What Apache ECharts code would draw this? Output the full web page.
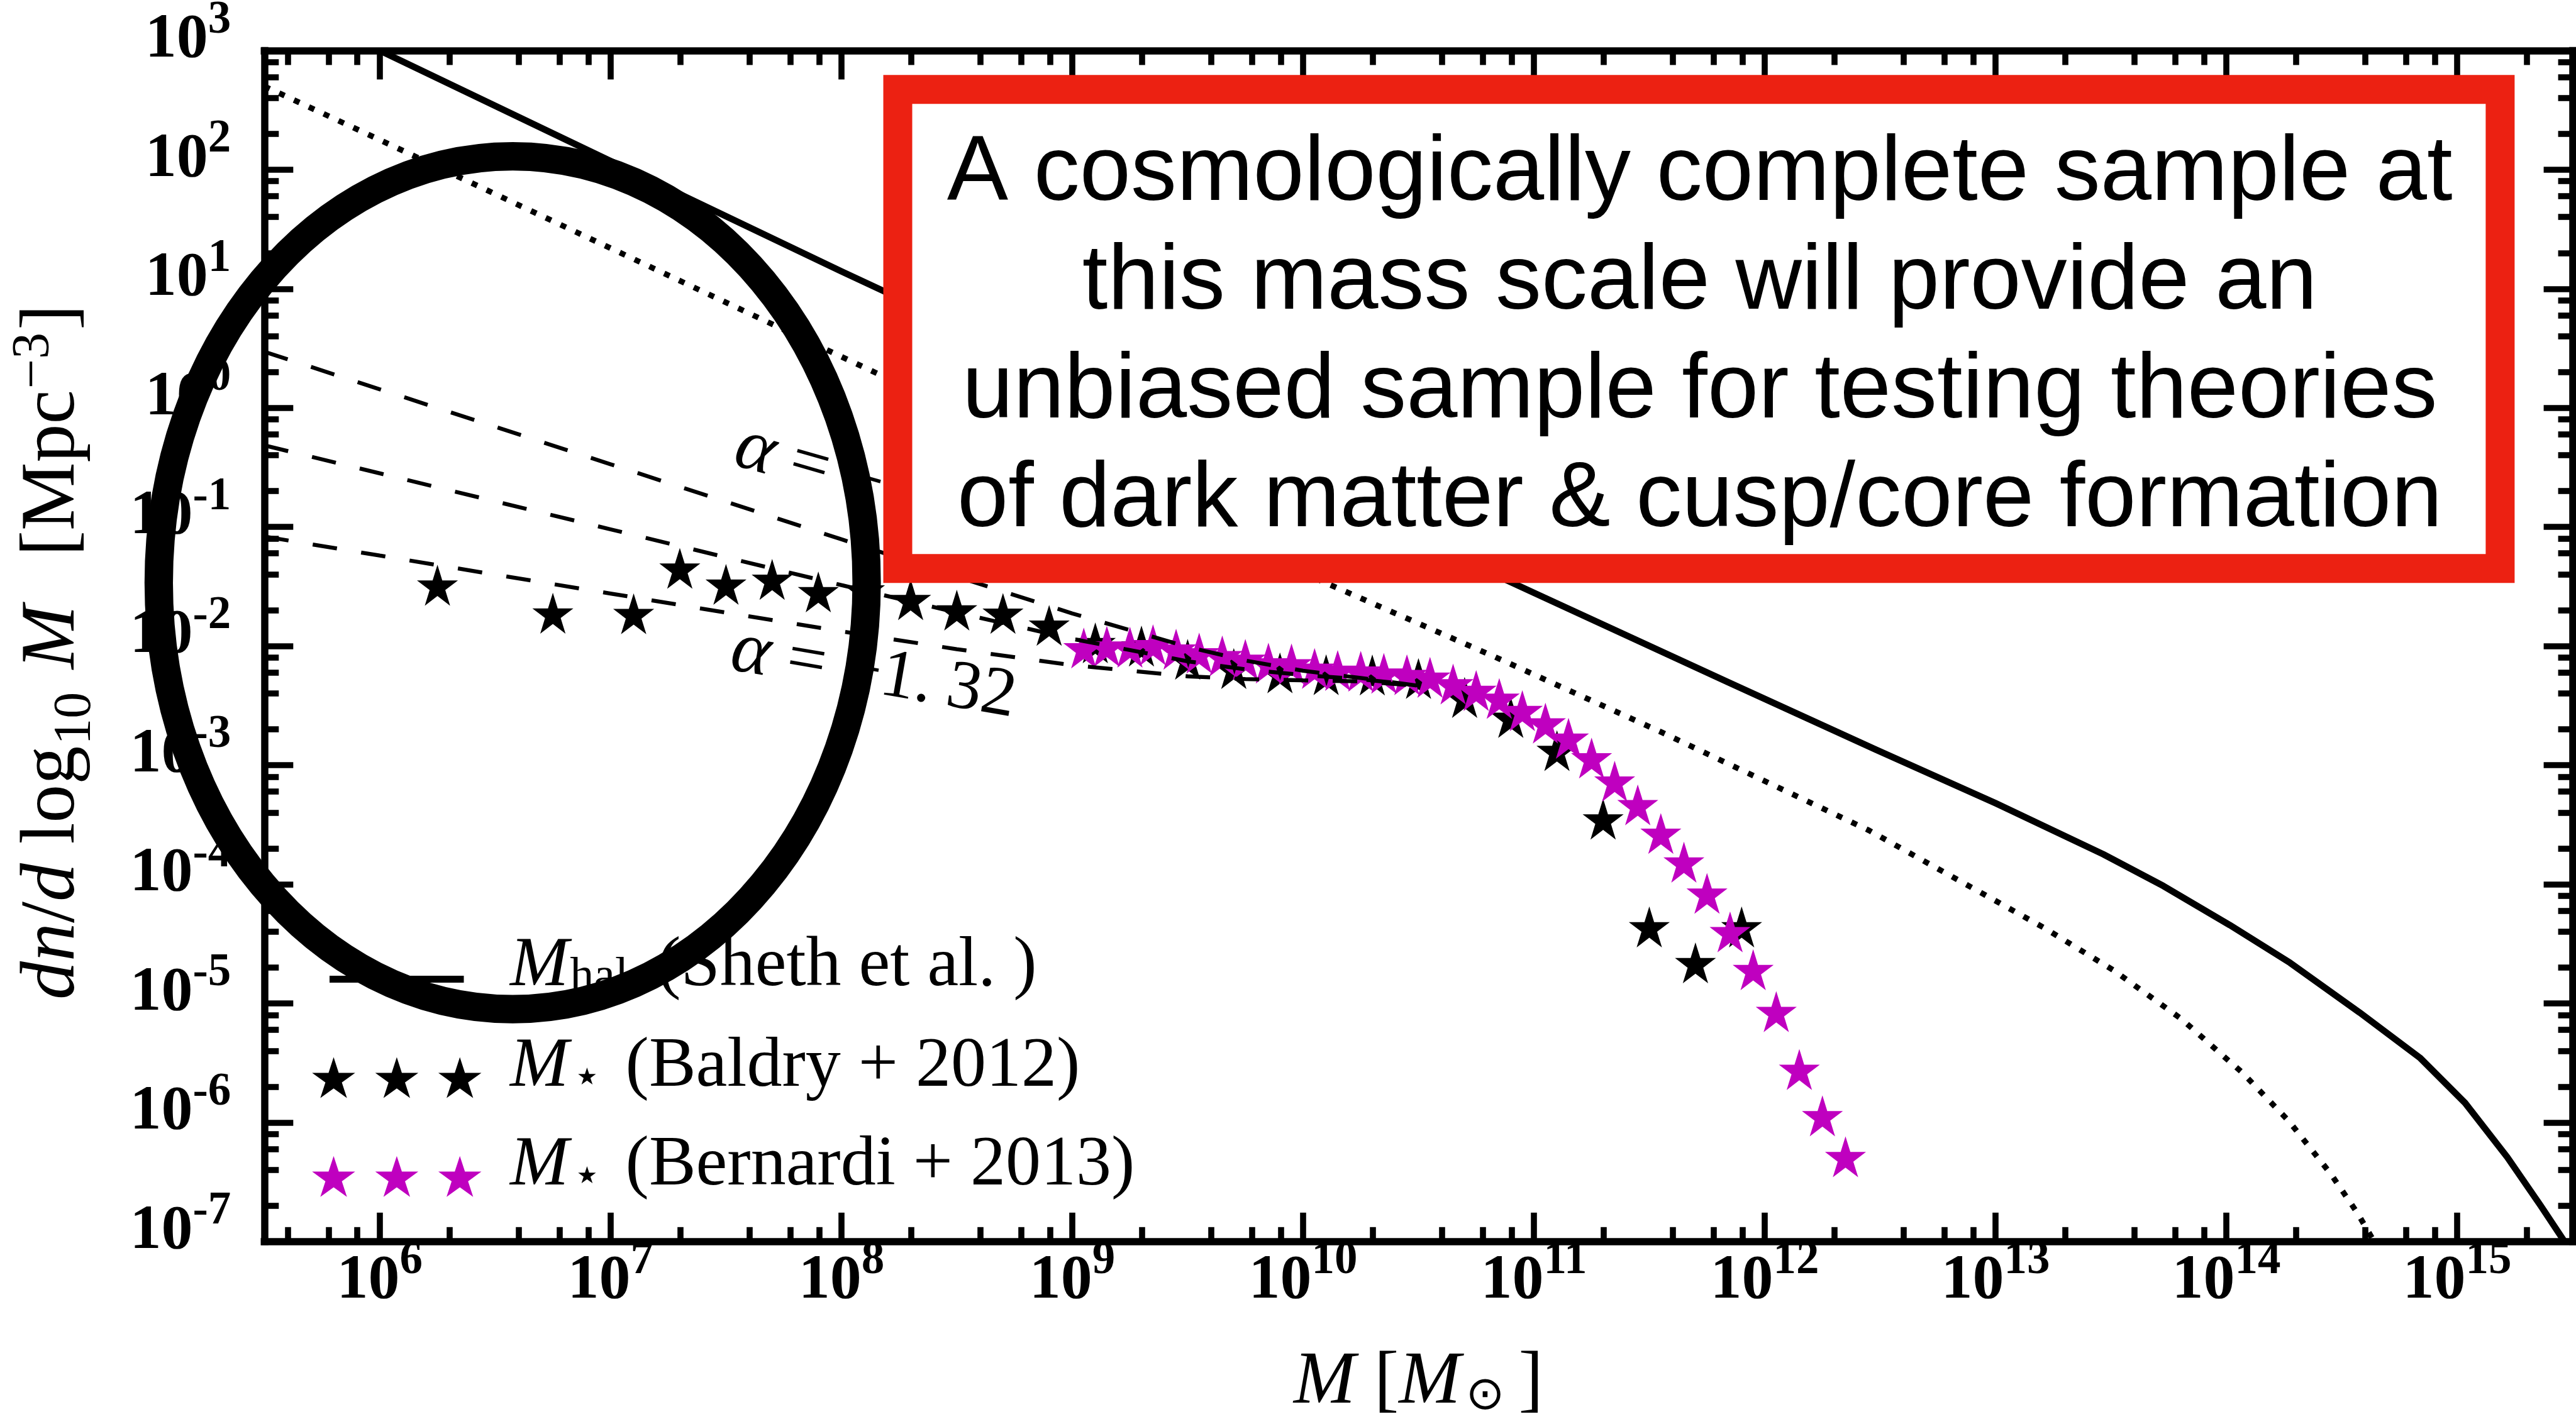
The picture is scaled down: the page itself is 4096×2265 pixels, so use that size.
<!DOCTYPE html>
<html>
<head>
<meta charset="utf-8">
<script src="https://cdn.jsdelivr.net/npm/echarts@6/dist/echarts.min.js"></script>
<style>
  html, body { margin: 0; padding: 0; background: #ffffff; }
  #chart { width: 4096px; height: 2265px; }
</style>
</head>
<body>
<div id="chart"></div>
<script>
// ---------------- data (log10 of mass in solar masses, number density per dex per Mpc^3) ----------------

// Halo mass function (Sheth et al.)
const haloLogM = [6.0, 7.0, 8.0, 9.0, 10.0, 11.0, 11.838, 12.481, 13.0, 13.466, 13.727, 14.015, 14.276, 14.577, 14.838, 15.034, 15.217, 15.361, 15.465];
const haloPhi  = [1000, 118, 14.0, 1.75, 0.220, 0.0280, 0.00501, 0.00135, 0.000479, 0.000179, 0.0000968, 0.0000454, 0.0000219, 0.00000838, 0.00000350, 0.00000146, 5.11e-7, 2.01e-7, 1.0e-7];

// Halo mass function scaled by the baryon fraction (dotted)
const baryonLogM = [5.5, 6.0, 7.0, 8.0, 9.0, 10.0, 10.831, 11.553, 12.452, 13.211, 13.512, 13.803, 14.070, 14.270, 14.452, 14.570, 14.64];
const baryonPhi  = [501, 178, 21.9, 2.69, 0.331, 0.0411, 0.00811, 0.00189, 0.000283, 0.0000430, 0.0000189, 0.00000745, 0.00000261, 0.00000103, 3.71e-7, 1.71e-7, 1.0e-7];

// Schechter fits with different faint-end slopes (dashed)
const fitLogM     = [5.5, 6.0, 6.5, 7.0, 7.5, 8.0, 8.5, 9.0, 9.5, 9.75, 10.0, 10.25, 10.5];
const fitSteep    = [2.958, 1.432, 0.694, 0.336, 0.163, 0.0787, 0.0382, 0.0188, 0.00984, 0.00756, 0.00620, 0.00539, 0.00464];
const fitMid      = [0.484, 0.282, 0.164, 0.0955, 0.0556, 0.0325, 0.0191, 0.0115, 0.00745, 0.00637, 0.00571, 0.00527, 0.00468];
const fitShallow  = [0.0831, 0.0575, 0.0398, 0.0276, 0.0191, 0.0133, 0.00941, 0.00691, 0.00557, 0.00528, 0.00515, 0.00505, 0.00464];

// Stellar mass function, Baldry et al. 2012
const baldryLogM = [6.25, 6.75, 7.10, 7.30, 7.50, 7.70, 7.90, 8.10, 8.30, 8.50, 8.70, 8.90, 9.10, 9.30, 9.50,
                    9.70, 9.90, 10.10, 10.30, 10.50, 10.70, 10.90, 11.10, 11.30, 11.50, 11.70, 11.90];
const baldryPhi  = [0.0311, 0.0181, 0.0179, 0.0431, 0.0316, 0.0348, 0.0273, 0.0283, 0.0235, 0.0192, 0.0180, 0.0143, 0.0102, 0.00959, 0.00742,
                    0.00621, 0.00571, 0.00551, 0.00548, 0.00512, 0.00355, 0.00241, 0.00127, 0.000338, 0.000042, 0.000021, 0.000042];

// Stellar mass function, Bernardi et al. 2013
const bernardiLogM = [9.05, 9.15, 9.25, 9.35, 9.45, 9.55, 9.65, 9.75, 9.85, 9.95, 10.05, 10.15, 10.25, 10.35, 10.45, 10.55, 10.65,
                      10.75, 10.85, 10.95, 11.05, 11.15, 11.25, 11.35, 11.45, 11.55, 11.65, 11.75, 11.85, 11.95, 12.05, 12.15, 12.25, 12.35];
const bernardiPhi  = [0.00923, 0.00955, 0.00938, 0.00982, 0.00902, 0.00838, 0.00793, 0.00741, 0.00689, 0.00678, 0.00622, 0.00598, 0.00589, 0.00566, 0.00551, 0.00524, 0.00460,
                      0.00406, 0.00348, 0.00275, 0.00216, 0.00161, 0.00110, 0.000703, 0.000445, 0.000256, 0.000147, 0.0000804, 0.0000382, 0.0000184, 0.00000817, 0.00000267, 0.00000109, 0.000000494];

// Axis decades that carry a labelled tick, and minor-tick multipliers
const xTickExp = [6, 7, 8, 9, 10, 11, 12, 13, 14, 15];
const yTickExp = [-7, -6, -5, -4, -3, -2, -1, 0, 1, 2, 3];
const minorMult = [2, 4, 6, 8];

// Annotation texts
const boxLines = [
  'A cosmologically complete sample at',
  'this mass scale will provide an',
  'unbiased sample for testing theories',
  'of dark matter & cusp/core formation'
];

// ---------------- helpers ----------------
const SERIF = 'Liberation Serif';
const pow10 = v => Math.pow(10, v);
const toPairs = (xs, ys) => xs.map((x, i) => [pow10(x), ys[i]]);

const X_MIN = pow10(5.5), X_MAX = pow10(15.5);
const Y_MIN = 1e-7, Y_MAX = 1e3;

const xMajor = xTickExp.map(pow10);
const yMajor = yTickExp.map(pow10);
const xMinor = [], yMinor = [];
for (let e = 5; e <= 15; e++) minorMult.forEach(m => { const v = m * pow10(e); if (v > X_MIN && v < X_MAX) xMinor.push(v); });
for (let e = -7; e <= 2; e++) minorMult.forEach(m => { const v = m * pow10(e); if (v > Y_MIN && v < Y_MAX) yMinor.push(v); });

// five-pointed star outline, outer radius R, centred on (cx, cy)
function starPath(cx, cy, R) {
  const pts = [];
  for (let k = 0; k < 10; k++) {
    const r = k % 2 === 0 ? R : R * 0.381966;
    const a = -Math.PI / 2 + k * Math.PI / 5;
    pts.push((cx + r * Math.cos(a)).toFixed(2) + ' ' + (cy + r * Math.sin(a)).toFixed(2));
  }
  return 'M' + pts.join(' L') + ' Z ';
}
// the extra move-to keeps the star centre in the middle of the symbol box
const STAR_SYMBOL = 'path://M100 200 ' + starPath(100, 100, 100);
// legend handles: three stars, or a short solid line, in a 310 x 72 box
const LEGEND_STARS = 'path://M0 0 M310 72 ' + starPath(34.5, 36, 36) + starPath(134.9, 36, 36) + starPath(235.2, 36, 36);
const LEGEND_LINE = 'path://M0 0 M310 72 M28 30.5 L241.5 30.5 L241.5 41.5 L28 41.5 Z';

const tickRich = {
  b: { fontFamily: SERIF, fontWeight: 'bold', fontSize: 100, lineHeight: 100, verticalAlign: 'bottom', color: '#000' },
  s: { fontFamily: SERIF, fontWeight: 'bold', fontSize: 73, lineHeight: 73, verticalAlign: 'bottom', padding: [0, 0, 45, 0], color: '#000' }
};
const powerLabel = v => '{b|10}{s|' + Math.round(Math.log10(v)) + '}';

const AXIS_LINE = { show: true, onZero: false, lineStyle: { color: '#000', width: 11.5, cap: 'square' } };
const TICK_STYLE = { color: '#000', width: 9.6 };

function logAxis(min, max, position, ticks, tickLen, withLine, label) {
  return {
    type: 'log', logBase: 10, min, max, position, gridIndex: 0,
    axisLine: withLine ? AXIS_LINE : { show: false },
    axisTick: { show: true, inside: true, length: tickLen, lineStyle: TICK_STYLE, customValues: ticks },
    minorTick: { show: false },
    splitLine: { show: false },
    axisLabel: label || { show: false }
  };
}

const xLabel = { show: true, customValues: xMajor, margin: 13, formatter: powerLabel, rich: tickRich };
const yLabel = { show: true, customValues: yMajor, margin: 53, padding: [0, 0, 32, 0], formatter: powerLabel, rich: tickRich };

const xBottom = logAxis(X_MIN, X_MAX, 'bottom', xMajor, 46, true, xLabel);
xBottom.name = '{i|M}{r| [}{i|M}{sun|\u2299}{r|]}';
xBottom.nameLocation = 'middle';
xBottom.nameGap = 166;
xBottom.nameTextStyle = {
  fontFamily: SERIF, fontSize: 118, lineHeight: 118, color: '#000', verticalAlign: 'top', align: 'center',
  rich: {
    i: { fontFamily: SERIF, fontStyle: 'italic', fontSize: 118, lineHeight: 118, verticalAlign: 'bottom', color: '#000' },
    r: { fontFamily: SERIF, fontSize: 118, lineHeight: 118, verticalAlign: 'bottom', color: '#000' },
    sun: { fontFamily: 'DejaVu Sans', fontSize: 74, lineHeight: 38, verticalAlign: 'bottom', padding: [0, 22, 0, 8], color: '#000' }
  }
};

const yLeft = logAxis(Y_MIN, Y_MAX, 'left', yMajor, 46, true, yLabel);
yLeft.name = '{i|dn}{r|/}{i|d}{r| log}{sub|10}{i| M}{rb|[Mpc}{sup|\u22123}{r|]}';
yLeft.nameLocation = 'middle';
yLeft.nameRotate = 90;
yLeft.nameGap = 257.6;
yLeft.nameTextStyle = {
  fontFamily: SERIF, fontSize: 122, lineHeight: 122, color: '#000', verticalAlign: 'bottom', align: 'center', padding: [0, 19, 0, 0],
  rich: {
    i: { fontFamily: SERIF, fontStyle: 'italic', fontSize: 122, lineHeight: 122, padding: [0, 0, 17, 0], verticalAlign: 'bottom', color: '#000' },
    r: { fontFamily: SERIF, fontSize: 122, lineHeight: 122, padding: [0, 0, 17, 0], verticalAlign: 'bottom', color: '#000' },
    rb: { fontFamily: SERIF, fontSize: 122, lineHeight: 122, padding: [0, 0, 17, 78], verticalAlign: 'bottom', color: '#000' },
    sub: { fontFamily: SERIF, fontSize: 84, lineHeight: 84, verticalAlign: 'bottom', padding: [0, 6, 0, 2], color: '#000' },
    sup: { fontFamily: SERIF, fontSize: 84, lineHeight: 84, padding: [0, 4, 66, 2], verticalAlign: 'bottom', color: '#000' }
  }
};

const legendRich = {
  i: { fontFamily: SERIF, fontStyle: 'italic', fontSize: 112, lineHeight: 72, verticalAlign: 'bottom', color: '#000' },
  r: { fontFamily: SERIF, fontSize: 112, lineHeight: 72, verticalAlign: 'bottom', color: '#000' },
  sub: { fontFamily: SERIF, fontSize: 76, lineHeight: 19, verticalAlign: 'bottom', padding: [0, 8, 0, 2], color: '#000' },
  star: { fontFamily: 'DejaVu Sans', fontSize: 74, lineHeight: 19, verticalAlign: 'bottom', padding: [0, 10, 0, 6], color: '#000' }
};
const legendText = {
  halo: '{i|M}{sub|halo}{r|(Sheth et al. )}',
  baldry: '{i|M}{star|\u22c6}{r| (Baldry + 2012)}',
  bernardi: '{i|M}{star|\u22c6}{r| (Bernardi + 2013)}'
};
function legendRow(name, icon, top) {
  return {
    data: [{ name, icon }],
    left: 496, top, orient: 'vertical', padding: 0,
    itemWidth: 310, itemHeight: 72, itemGap: 0,
    selectedMode: false,
    itemStyle: { borderWidth: 0, opacity: 1 },
    textStyle: { fontFamily: SERIF, fontSize: 112, lineHeight: 72, color: '#000', rich: legendRich },
    formatter: n => legendText[n]
  };
}

const labelRich = {
  a: { fontFamily: SERIF, fontStyle: 'italic', fontSize: 118, color: '#000' },
  r: { fontFamily: SERIF, fontSize: 110, color: '#000' },
  d: { fontFamily: SERIF, fontSize: 110, padding: [0, 0, 0, 24], color: '#000' }
};

const lineCommon = { type: 'line', z: 3, xAxisIndex: 0, yAxisIndex: 0, symbol: 'none', showSymbol: false, smooth: false, itemStyle: { color: '#000' } };
const starCommon = { type: 'scatter', z: 1, xAxisIndex: 0, yAxisIndex: 0, symbol: STAR_SYMBOL, symbolSize: [68.5, 72], symbolKeepAspect: true };

// ---------------- chart ----------------
const chart = echarts.init(document.getElementById('chart'), null, { width: 4096, height: 2265, renderer: 'canvas' });

chart.setOption({
  animation: false,
  backgroundColor: '#ffffff',
  grid: { left: 420.3, top: 80.4, width: 3670.3, height: 1894.4, containLabel: false, outerBoundsMode: 'none' },
  xAxis: [
    xBottom,
    logAxis(X_MIN, X_MAX, 'top', xMajor, 46, true),
    logAxis(X_MIN, X_MAX, 'bottom', xMinor, 23, false),
    logAxis(X_MIN, X_MAX, 'top', xMinor, 23, false)
  ],
  yAxis: [
    yLeft,
    logAxis(Y_MIN, Y_MAX, 'right', yMajor, 46, true),
    logAxis(Y_MIN, Y_MAX, 'left', yMinor, 23, false),
    logAxis(Y_MIN, Y_MAX, 'right', yMinor, 23, false)
  ],
  legend: [
    legendRow('halo', LEGEND_LINE, 1481.5),
    legendRow('baldry', LEGEND_STARS, 1641.5),
    legendRow('bernardi', LEGEND_STARS, 1798.7)
  ],
  series: [
    Object.assign({}, starCommon, { name: 'baldry', data: toPairs(baldryLogM, baldryPhi), itemStyle: { color: '#000000', opacity: 1 } }),
    Object.assign({}, starCommon, { name: 'bernardi', data: toPairs(bernardiLogM, bernardiPhi), itemStyle: { color: '#bf00bf', opacity: 1 } }),
    Object.assign({}, lineCommon, { name: 'halo', data: toPairs(haloLogM, haloPhi),
      lineStyle: { color: '#000', width: 10.4, type: 'solid', join: 'round' } }),
    Object.assign({}, lineCommon, { name: 'baryons', data: toPairs(baryonLogM, baryonPhi),
      lineStyle: { color: '#000', width: 9, type: [9.5, 16.5], cap: 'butt' } }),
    Object.assign({}, lineCommon, { name: 'fit steep', data: toPairs(fitLogM, fitSteep),
      lineStyle: { color: '#000', width: 6.3, type: [39, 39] } }),
    Object.assign({}, lineCommon, { name: 'fit mid', data: toPairs(fitLogM, fitMid),
      lineStyle: { color: '#000', width: 6.3, type: [39, 39] } }),
    Object.assign({}, lineCommon, { name: 'fit shallow', data: toPairs(fitLogM, fitShallow),
      lineStyle: { color: '#000', width: 6.3, type: [39, 39] } })
  ],
  graphic: [
    // slope labels along the dashed fits
    {
      type: 'text', z: 10, x: 1171.5, y: 708.4, rotation: -16 * Math.PI / 180,
      style: { text: '{a|\u03b1}{r| = \u2212}', rich: labelRich, x: 0, y: 0, align: 'left', verticalAlign: 'middle' }
    },
    {
      type: 'text', z: 10, x: 1163.5, y: 1033.6, rotation: -9.8 * Math.PI / 180,
      style: { text: '{a|\u03b1}{r| = \u22121.}{d|32}', rich: labelRich, x: 0, y: 0, align: 'left', verticalAlign: 'middle' }
    },
    // highlighted mass range
    {
      type: 'ellipse', z: 100,
      shape: { cx: 815.2, cy: 926.9, rx: 562.8, ry: 678.3 },
      style: { fill: 'none', stroke: '#000', lineWidth: 45.2 }
    },
    // call-out box
    {
      type: 'rect', z: 90,
      shape: { x: 1427.5, y: 142.3, width: 2547.9, height: 762 },
      style: { fill: '#ffffff', stroke: '#ec2112', lineWidth: 46 }
    },
    {
      type: 'text', z: 95,
      style: {
        text: boxLines.join('\n'), x: 2702.7, y: 537, align: 'center', verticalAlign: 'middle',
        fontFamily: 'Liberation Sans', fontSize: 146, lineHeight: 173, fill: '#000'
      }
    }
  ]
});
</script>
</body>
</html>
